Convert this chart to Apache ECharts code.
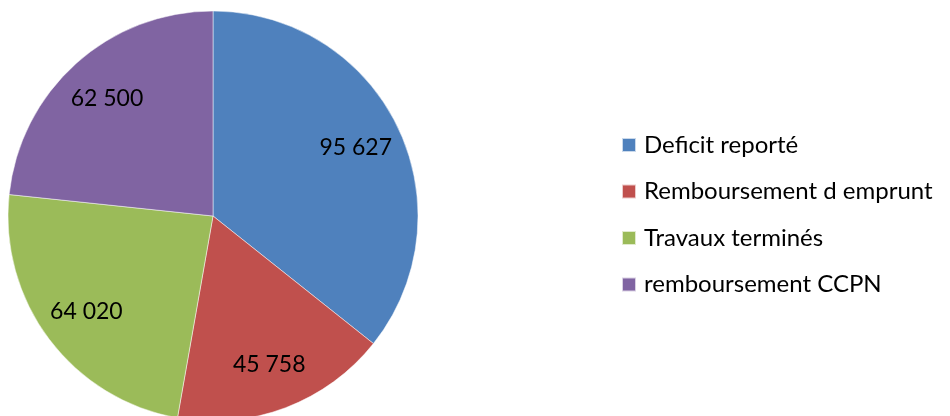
<!DOCTYPE html>
<html><head><meta charset="utf-8">
<script src="https://cdn.jsdelivr.net/npm/echarts@6/dist/echarts.min.js"></script>
<style>html,body{margin:0;padding:0;background:#fff}#c{width:950px;height:416px}</style>
</head><body><div id="c"></div>
<script>
const categories = ["Deficit reporté", "Remboursement d emprunt", "Travaux terminés", "remboursement CCPN"];
const values = [95627, 45758, 64020, 62500];
const colors = ["#4F81BD", "#C0504D", "#9BBB59", "#8064A2"];

const fmt = v => String(v).replace(/\B(?=(\d{3})+(?!\d))/g, " ");
const data = categories.map((n, i) => ({ name: n, value: values[i], itemStyle: { color: colors[i] } }));
const chart = echarts.init(document.getElementById('c'), null, { renderer: 'canvas' });
const FONT = 'Lato';
chart.setOption({
  animation: false,
  backgroundColor: '#fff',
  legend: {
    orient: 'vertical', left: 616, top: 128,
    itemWidth: 14, itemHeight: 14, itemGap: 22.5,
    icon: 'rect',
    textStyle: { fontFamily: FONT, fontSize: 24, color: '#000', padding: [0, 0, 0, 3] },
    data: categories
  },
  series: [{
    type: 'pie', center: [213, 216], radius: [0, 205], startAngle: 90, clockwise: true,
    label: { show: false }, labelLine: { show: false },
    itemStyle: { borderColor: 'rgba(255,255,255,0.7)', borderWidth: 0.7 },
    emphasis: { disabled: true },
    data: data
  }, {
    type: 'pie', center: [213, 216], radius: [106, 205], startAngle: 90, clockwise: true,
    silent: true,
    itemStyle: { color: 'transparent' },
    label: { show: true, position: 'inside', formatter: p => fmt(p.value), fontFamily: FONT, fontSize: 23, color: '#000' },
    labelLine: { show: false },
    emphasis: { disabled: true },
    data: categories.map((n, i) => ({ name: n + ' ', value: values[i] }))
  }]
});
</script></body></html>
